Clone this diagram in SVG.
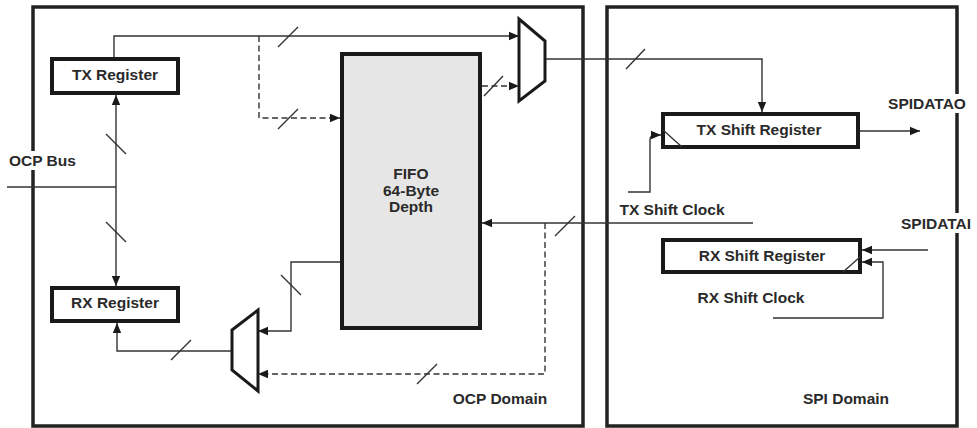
<svg xmlns="http://www.w3.org/2000/svg" width="977" height="428" viewBox="0 0 977 428">
<style>
.dom{fill:none;stroke:#222;stroke-width:3.5}
.box{fill:#fff;stroke:#1a1a1a;stroke-width:4}
.fifo{fill:#e6e6e6;stroke:#1a1a1a;stroke-width:4}
.mux{fill:#fff;stroke:#1a1a1a;stroke-width:3;stroke-linejoin:miter}
.ln{fill:none;stroke:#333;stroke-width:1.4}
.dash{fill:none;stroke:#333;stroke-width:1.4;stroke-dasharray:6 3.5}
.sl{fill:none;stroke:#333;stroke-width:1.4}
.ar{marker-end:url(#ah)}
text{font-family:"Liberation Sans",Arial,sans-serif;font-weight:bold;font-size:15.5px;fill:#2a2a2a}
.c{text-anchor:middle}
</style>
<defs>
<marker id="ah" markerUnits="userSpaceOnUse" markerWidth="10" markerHeight="10" viewBox="0 0 10 10" refX="10" refY="5" orient="auto">
<path d="M0,0.8 L10,5 L0,9.2 Z" fill="#1a1a1a"/>
</marker>
</defs>
<g id="ocp-domain">
<path class="dom" d="M33,151 V7 H583 V426 H33 V170"/>
<text x="500" y="404" class="c">OCP Domain</text>
</g>
<g id="spi-domain">
<path class="dom" d="M957,94 V7 H607 V426 H957 V233 M957,213 V113"/>
<text x="846" y="404" class="c">SPI Domain</text>
</g>
<g id="connectors">
<path class="ln ar" d="M114,57 V36 H519"/>
<path class="dash ar" d="M259,36 V118 H340"/>
<path class="dash ar" d="M482,86 H519"/>
<path class="ln ar" d="M545,59 H762 V112"/>
<path class="ln ar" d="M860,131 H920"/>
<path class="ln ar" d="M628,192 H650 V140 Q650,135 655,135 H661"/>
<path class="ln ar" d="M753,223 H482"/>
<path class="dash ar" d="M545,223 V374 H258"/>
<path class="ln ar" d="M340,262 H291 V331 H258"/>
<path class="ln ar" d="M232,351 H117 V323"/>
<path class="ln" d="M7,187 H116"/>
<path class="ln ar" d="M116,187 V95"/>
<path class="ln ar" d="M116,187 V286"/>
<path class="ln ar" d="M928,250 H862"/>
<path class="ln ar" d="M773,318 H883 V262 H862"/>
<path class="sl" d="M278,47 L298,27 M106,134 L126,154 M106,222 L126,242 M278,129 L298,109 M484,96 L503,76 M626,69 L645,49 M555,236 L575,216 M417,384 L437,364 M281,275 L301,295 M171,360 L191,340"/>
</g>
<g id="ocp-bus">
<text x="9" y="166">OCP Bus</text>
</g>
<g id="tx-register">
<rect class="box" x="52" y="59" width="126" height="34"/>
<text x="115" y="80" class="c">TX Register</text>
</g>
<g id="rx-register">
<rect class="box" x="52" y="288" width="126" height="33"/>
<text x="115" y="308" class="c">RX Register</text>
</g>
<g id="fifo">
<rect class="fifo" x="342" y="54" width="138" height="274"/>
<text x="411" y="179" class="c">FIFO</text>
<text x="411" y="196" class="c">64-Byte</text>
<text x="411" y="212" class="c">Depth</text>
</g>
<g id="tx-mux">
<polygon class="mux" points="519,19 545,41 545,81 519,101"/>
</g>
<g id="rx-mux">
<polygon class="mux" points="232,330 258,310 258,391 232,370"/>
</g>
<g id="tx-shift-register">
<rect class="box" x="663" y="114" width="195" height="33"/>
<path class="ln" d="M663,130 L682,147"/>
<text x="759" y="135" class="c">TX Shift Register</text>
</g>
<g id="rx-shift-register">
<rect class="box" x="663" y="240" width="197" height="32"/>
<path class="ln" d="M843,272 L860,257"/>
<text x="762" y="261" class="c">RX Shift Register</text>
</g>
<g id="labels">
<text x="672" y="215" class="c">TX Shift Clock</text>
<text x="751" y="303" class="c">RX Shift Clock</text>
<text x="927" y="109" class="c">SPIDATAO</text>
<text x="936" y="229" class="c">SPIDATAI</text>
</g>
</svg>
